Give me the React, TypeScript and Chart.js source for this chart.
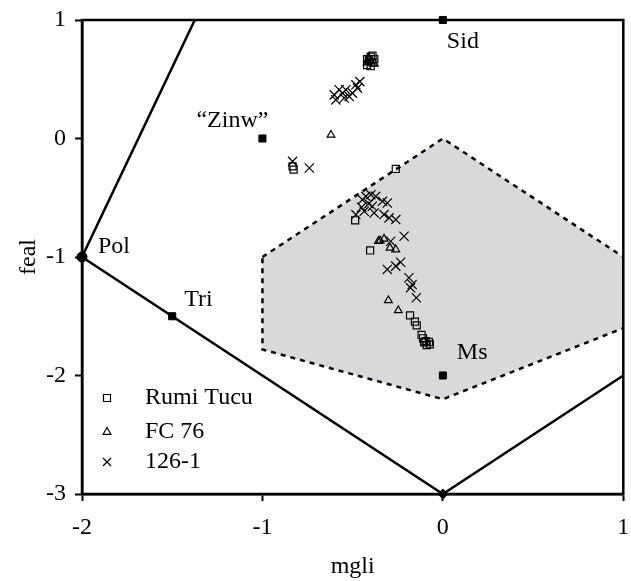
import React, { useEffect, useRef } from 'react';
import { Chart, registerables } from 'chart.js';

Chart.register(...registerables);

// ---- data ----
const xTicks = [-2, -1, 0, 1];
const yTicks = [-3, -2, -1, 0, 1];

const rumiX = [-0.42, -0.41, -0.40, -0.39, -0.38, -0.40, -0.42, -0.39,
  -0.833, -0.827, -0.261, -0.486, -0.403, -0.182, -0.155, -0.145, -0.118, -0.110, -0.096, -0.077, -0.090, -0.072, -0.104];
const rumiY = [0.62, 0.66, 0.69, 0.64, 0.67, 0.61, 0.67, 0.70,
  -0.235, -0.263, -0.257, -0.69, -0.945, -1.493, -1.546, -1.577, -1.658, -1.686, -1.709, -1.717, -1.743, -1.737, -1.72];

const fcX = [-0.41, -0.38, -0.40, -0.42, -0.620, -0.357, -0.348, -0.326, -0.293, -0.261, -0.302, -0.247];
const fcY = [0.68, 0.63, 0.65, 0.64, 0.03, -0.867, -0.862, -0.847, -0.923, -0.937, -1.366, -1.451];

const s126X = [-0.602, -0.575, -0.556, -0.538, -0.519, -0.501, -0.482, -0.460, -0.473, -0.593, -0.547,
  -0.833, -0.740,
  -0.482, -0.446, -0.427, -0.399, -0.372, -0.436, -0.391, -0.381, -0.335, -0.308, -0.326, -0.298, -0.261,
  -0.215, -0.289, -0.308, -0.261, -0.234, -0.188, -0.170, -0.179, -0.147, -0.41, -0.45];
const s126Y = [0.368, 0.411, 0.383, 0.411, 0.354, 0.383, 0.453, 0.480, 0.425, 0.326, 0.341,
  -0.193, -0.249,
  -0.642, -0.516, -0.488, -0.474, -0.488, -0.614, -0.572, -0.628, -0.530, -0.544, -0.642, -0.670, -0.684,
  -0.825, -0.867, -1.105, -1.077, -1.044, -1.175, -1.232, -1.26, -1.344, -0.55, -0.58];

const refNames = ['Sid', '\u201CZinw\u201D', 'Pol', 'Tri', 'Ms', ''];
const refX = [0, -1, -2, -1.5, 0, 0];
const refY = [1, 0, -1, -1.5, -2, -3];

const fieldX = [-1, 0, 1, 1, 0, -1, -1];
const fieldY = [-1, 0, -1, -1.6, -2.2, -1.78, -1];

const boundX = [-1.375, -2, 0, 1];
const boundY = [1, -1, -3, -2];

const seriesNames = ['Rumi Tucu', 'FC 76', '126-1'];

// ---- styles ----
const FONT_FAMILY = '"Liberation Serif", "Times New Roman", Times, serif';
const FONT_SIZE = 24;

const pts = (xs: number[], ys: number[]) => xs.map((x, i) => ({ x, y: ys[i] }));

const labelStyle = [
  { dx: 4, dy: 22, align: 'left' },
  { dx: 6, dy: -18, align: 'right' },
  { dx: 16, dy: -10, align: 'left' },
  { dx: 12, dy: -17, align: 'left' },
  { dx: 14, dy: -23, align: 'left' },
  { dx: 0, dy: 0, align: 'left' },
];

const overlayPlugin = {
  id: 'overlay',
  afterDatasetsDraw(chart: any) {
    const { ctx, chartArea: ca, scales } = chart;
    const xs = scales.x;
    const ys = scales.y;
    ctx.save();
    ctx.strokeStyle = '#000';
    ctx.lineWidth = 2.5;
    ctx.strokeRect(ca.left, ca.top, ca.right - ca.left, ca.bottom - ca.top);

    ctx.font = `${FONT_SIZE}px ${FONT_FAMILY}`;
    ctx.fillStyle = '#000';
    ctx.textBaseline = 'middle';
    refNames.forEach((n, i) => {
      if (!n) return;
      const st = labelStyle[i];
      const px = xs.getPixelForValue(refX[i]);
      const py = ys.getPixelForValue(refY[i]);
      ctx.textAlign = st.align;
      ctx.fillText(n, px + st.dx, py + st.dy);
    });

    const lx = 107;
    const rows = [398, 432, 462];
    ctx.lineWidth = 1.2;
    ctx.strokeStyle = '#000';
    seriesNames.forEach((name, i) => {
      const cy = rows[i];
      ctx.beginPath();
      if (i === 0) {
        ctx.rect(lx - 3.5, cy - 3.5, 7, 7);
      } else if (i === 1) {
        ctx.moveTo(lx, cy - 4.5);
        ctx.lineTo(lx + 3.9, cy + 2.3);
        ctx.lineTo(lx - 3.9, cy + 2.3);
        ctx.closePath();
      } else {
        ctx.moveTo(lx - 4, cy - 4);
        ctx.lineTo(lx + 4, cy + 4);
        ctx.moveTo(lx + 4, cy - 4);
        ctx.lineTo(lx - 4, cy + 4);
      }
      ctx.stroke();
      ctx.textAlign = 'left';
      ctx.fillText(name, 145, cy);
    });
    ctx.restore();
  },
};

export default function App() {
  const ref = useRef<HTMLCanvasElement | null>(null);
  useEffect(() => {
    if (!ref.current) return;
    const font = { family: FONT_FAMILY, size: FONT_SIZE };
    const chart = new Chart(ref.current, {
      type: 'scatter',
      data: {
        datasets: [
          {
            label: 'field',
            data: pts(fieldX, fieldY),
            showLine: true,
            fill: 'shape',
            backgroundColor: '#d9d9db',
            borderColor: '#000',
            borderWidth: 2.5,
            borderDash: [5, 5],
            pointRadius: 0,
            tension: 0,
            order: 100,
          } as any,
          {
            label: 'bounds',
            data: pts(boundX, boundY),
            showLine: true,
            fill: false,
            borderColor: '#000',
            borderWidth: 2.5,
            pointRadius: 0,
            tension: 0,
            order: 90,
          },
          {
            label: 'refs',
            data: pts(refX, refY),
            showLine: false,
            pointStyle: ['rect', 'rect', 'circle', 'rect', 'rect', 'rectRot'],
            pointRadius: [5, 5, 5, 5, 5, 5],
            backgroundColor: '#000',
            borderColor: '#000',
            borderWidth: 1,
            clip: false,
            order: 50,
          } as any,
          {
            label: seriesNames[0],
            data: pts(rumiX, rumiY),
            pointStyle: 'rect',
            pointRadius: 5,
            borderWidth: 1.2,
            borderColor: '#000',
            backgroundColor: 'rgba(0,0,0,0)',
            order: 3,
          },
          {
            label: seriesNames[1],
            data: pts(fcX, fcY),
            pointStyle: 'triangle',
            pointRadius: 4.5,
            borderWidth: 1.2,
            borderColor: '#000',
            backgroundColor: 'rgba(0,0,0,0)',
            order: 2,
          },
          {
            label: seriesNames[2],
            data: pts(s126X, s126Y),
            pointStyle: 'crossRot',
            pointRadius: 6.5,
            borderWidth: 1.2,
            borderColor: '#000',
            backgroundColor: 'rgba(0,0,0,0)',
            order: 1,
          },
        ],
      },
      options: {
        animation: false,
        responsive: false,
        devicePixelRatio: 1,
        events: [],
        layout: { padding: { top: 20, right: 6, left: 0, bottom: 0 } },
        plugins: { legend: { display: false }, tooltip: { enabled: false } },
        scales: {
          x: {
            type: 'linear',
            min: -2,
            max: 1,
            afterBuildTicks: (s: any) => { s.ticks = xTicks.map((v) => ({ value: v })); },
            afterFit: (s: any) => { s.height = 87; s.paddingLeft = 0; s.paddingRight = 0; },
            ticks: { color: '#000', font, padding: 12, callback: (v: any) => String(v) },
            grid: { drawOnChartArea: false, drawTicks: true, tickLength: 7, tickColor: '#000', tickWidth: 2 },
            border: { color: '#000', width: 2.5 },
            title: { display: true, text: 'mgli', color: '#000', font, padding: { top: 0, bottom: 0 } },
          },
          y: {
            type: 'linear',
            min: -3,
            max: 1,
            afterBuildTicks: (s: any) => { s.ticks = yTicks.map((v) => ({ value: v })); },
            afterFit: (s: any) => { s.width = 82; s.paddingTop = 0; s.paddingBottom = 0; },
            ticks: { color: '#000', font, padding: 9, callback: (v: any) => String(v) },
            grid: { drawOnChartArea: false, drawTicks: true, tickLength: 7, tickColor: '#000', tickWidth: 2 },
            border: { color: '#000', width: 2.5 },
            title: { display: true, text: 'feal', color: '#000', font, padding: { top: 14, bottom: 0 } },
          },
        },
      },
      plugins: [overlayPlugin],
    } as any);
    return () => chart.destroy();
  }, []);
  return (
    <div style={{ position: 'absolute', left: 0, top: 0, width: 631, height: 581, background: '#fff' }}>
      <canvas ref={ref} width={631} height={581} />
    </div>
  );
}
